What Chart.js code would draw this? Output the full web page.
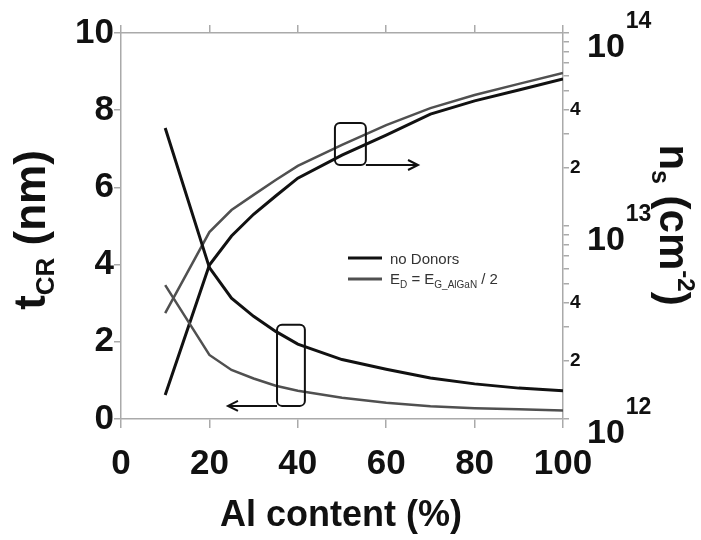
<!DOCTYPE html>
<html>
<head>
<meta charset="utf-8">
<script src="https://cdn.jsdelivr.net/npm/chart.js@4.4.1/dist/chart.umd.min.js"></script>
<style>
  html, body { margin: 0; padding: 0; background: #fff; }
  canvas { display: block; }
</style>
</head>
<body>
<canvas id="chart" width="701" height="540"></canvas>
<script>
// Valores (Al content en %)
const alContent = [10, 20, 25, 30, 35, 40, 50, 60, 70, 80, 90, 100];

// t_CR (nm), eje izquierdo
const tcrNoDonors = [7.54, 3.92, 3.13, 2.66, 2.27, 1.94, 1.54, 1.29, 1.06, 0.91, 0.80, 0.73];
const tcrDonors   = [3.47, 1.66, 1.27, 1.05, 0.86, 0.73, 0.55, 0.42, 0.33, 0.28, 0.25, 0.22];

// n_s (cm^-2), eje derecho logarítmico
const nsNoDonors = [1.33e12, 6.28e12, 8.87e12, 1.15e13, 1.43e13, 1.77e13, 2.33e13, 2.96e13, 3.8e13, 4.45e13, 5.07e13, 5.78e13];
const nsDonors   = [3.54e12, 9.3e12, 1.21e13, 1.45e13, 1.73e13, 2.05e13, 2.63e13, 3.33e13, 4.08e13, 4.77e13, 5.45e13, 6.21e13];

// ticks del eje derecho
const nsTicks = [1e12, 2e12, 3e12, 4e12, 5e12, 6e12, 7e12, 8e12, 9e12,
                 1e13, 2e13, 3e13, 4e13, 5e13, 6e13, 7e13, 8e13, 9e13, 1e14];
const nsTickText = ['', '2', '', '4', '', '', '', '', '',
                    '', '2', '', '4', '', '', '', '', '', ''];
const nsDecades = [12, 13, 14];

// recuadros y flechas (en unidades de los ejes x / y izquierdo)
const boxNs  = { x0: 48.4, x1: 55.4, y0: 6.58, y1: 7.67, arrowTo: 67.2 };
const boxTcr = { x0: 35.3, x1: 41.6, y0: 0.34, y1: 2.44, arrowTo: 24.2 };

const FONT = '"Liberation Sans", Arial, sans-serif';
const BLACK = '#111111';
const GRAY = '#505050';
const FRAME = '#aaaaaa';

function pts(ys) {
    return alContent.map((x, i) => ({ x: x, y: ys[i] }));
}

// texto con sub/superíndices
function richWidth(ctx, parts) {
    let w = 0;
    parts.forEach(p => {
        ctx.font = (p.weight || 'bold') + ' ' + p.size + 'px ' + FONT;
        w += ctx.measureText(p.text).width;
    });
    return w;
}
function drawRich(ctx, parts, x, y) {
    parts.forEach(p => {
        ctx.font = (p.weight || 'bold') + ' ' + p.size + 'px ' + FONT;
        ctx.fillText(p.text, x, y + (p.dy || 0));
        x += ctx.measureText(p.text).width;
    });
    return x;
}

function arrow(ctx, x0, y, x1) {
    const dir = Math.sign(x1 - x0);
    ctx.beginPath();
    ctx.moveTo(x0, y);
    ctx.lineTo(x1, y);
    ctx.stroke();
    ctx.beginPath();
    ctx.moveTo(x1 - dir * 10, y - 5);
    ctx.lineTo(x1, y);
    ctx.lineTo(x1 - dir * 10, y + 5);
    ctx.stroke();
}

function roundBox(ctx, xa, ya, xb, yb, r) {
    ctx.beginPath();
    ctx.roundRect(Math.min(xa, xb), Math.min(ya, yb), Math.abs(xb - xa), Math.abs(yb - ya), r);
    ctx.stroke();
}

const extras = {
    id: 'extras',
    afterDraw(chart) {
        const ctx = chart.ctx;
        const sx = chart.scales.x, sy = chart.scales.y, sr = chart.scales.yR;
        ctx.save();
        ctx.fillStyle = BLACK;
        ctx.textAlign = 'left';
        ctx.textBaseline = 'alphabetic';

        // etiquetas 10^n del eje derecho
        nsDecades.forEach(e => {
            const py = sr.getPixelForValue(Math.pow(10, e));
            ctx.font = 'bold 34px ' + FONT;
            ctx.fillText('10', 587, py + 24);
            const w = ctx.measureText('10').width;
            ctx.font = 'bold 23px ' + FONT;
            ctx.fillText(String(e), 587 + w + 1, py - 5);
        });

        // título izquierdo
        const leftParts = [
            { text: 't', size: 44 },
            { text: 'CR', size: 26, dy: 9 },
            { text: ' (nm)', size: 44 }
        ];
        ctx.save();
        ctx.translate(45, 230);
        ctx.rotate(-Math.PI / 2);
        drawRich(ctx, leftParts, -richWidth(ctx, leftParts) / 2, 0);
        ctx.restore();

        // título derecho
        const rightParts = [
            { text: 'n', size: 42 },
            { text: 's', size: 25, dy: 8 },
            { text: ' (cm', size: 42 },
            { text: '-2', size: 24, dy: -18 },
            { text: ')', size: 42 }
        ];
        ctx.save();
        ctx.translate(660, 225);
        ctx.rotate(Math.PI / 2);
        drawRich(ctx, rightParts, -richWidth(ctx, rightParts) / 2, 0);
        ctx.restore();

        // título inferior
        ctx.font = 'bold 36px ' + FONT;
        ctx.textAlign = 'center';
        ctx.fillText('Al content (%)', 341, 526);
        ctx.textAlign = 'left';

        // leyenda
        const ds = chart.data.datasets;
        ctx.lineWidth = 3;
        ctx.strokeStyle = ds[0].borderColor;
        ctx.beginPath(); ctx.moveTo(348, 258); ctx.lineTo(382, 258); ctx.stroke();
        ctx.strokeStyle = ds[1].borderColor;
        ctx.beginPath(); ctx.moveTo(348, 279); ctx.lineTo(382, 279); ctx.stroke();
        ctx.fillStyle = '#333';
        drawRich(ctx, [{ text: 'no Donors', size: 15, weight: 'normal' }], 390, 264);
        drawRich(ctx, [
            { text: 'E', size: 15, weight: 'normal' },
            { text: 'D', size: 10, weight: 'normal', dy: 4 },
            { text: ' = E', size: 15, weight: 'normal' },
            { text: 'G_AlGaN', size: 10, weight: 'normal', dy: 4 },
            { text: ' / 2', size: 15, weight: 'normal' }
        ], 390, 284);

        // recuadros y flechas
        ctx.strokeStyle = BLACK;
        ctx.lineWidth = 2;
        roundBox(ctx, sx.getPixelForValue(boxNs.x0), sy.getPixelForValue(boxNs.y1),
                 sx.getPixelForValue(boxNs.x1), sy.getPixelForValue(boxNs.y0), 5);
        arrow(ctx, sx.getPixelForValue(boxNs.x1), sy.getPixelForValue(boxNs.y0),
              sx.getPixelForValue(boxNs.arrowTo));
        roundBox(ctx, sx.getPixelForValue(boxTcr.x0), sy.getPixelForValue(boxTcr.y1),
                 sx.getPixelForValue(boxTcr.x1), sy.getPixelForValue(boxTcr.y0), 5);
        arrow(ctx, sx.getPixelForValue(boxTcr.x0), sy.getPixelForValue(boxTcr.y0),
              sx.getPixelForValue(boxTcr.arrowTo));

        ctx.restore();
    }
};

const axisGrid = len => ({
    drawOnChartArea: false,
    drawTicks: true,
    tickLength: len,
    color: FRAME,
    lineWidth: 1.5
});
const axisBorder = { display: true, color: FRAME, width: 1.5 };
const tickFont = { family: FONT, size: 35, weight: 'bold' };

new Chart(document.getElementById('chart'), {
    type: 'line',
    data: {
        datasets: [
            { label: 'no Donors', data: pts(tcrNoDonors), yAxisID: 'y',
              borderColor: BLACK, borderWidth: 3, pointRadius: 0, tension: 0 },
            { label: 'E_D = E_G_AlGaN / 2', data: pts(tcrDonors), yAxisID: 'y',
              borderColor: GRAY, borderWidth: 2.5, pointRadius: 0, tension: 0 },
            { label: 'no Donors (ns)', data: pts(nsNoDonors), yAxisID: 'yR',
              borderColor: BLACK, borderWidth: 3, pointRadius: 0, tension: 0 },
            { label: 'E_D = E_G_AlGaN / 2 (ns)', data: pts(nsDonors), yAxisID: 'yR',
              borderColor: GRAY, borderWidth: 2.5, pointRadius: 0, tension: 0 }
        ]
    },
    options: {
        responsive: false,
        animation: false,
        devicePixelRatio: 1,
        layout: { padding: 0 },
        plugins: {
            legend: { display: false },
            tooltip: { enabled: false }
        },
        scales: {
            x: {
                type: 'linear', position: 'bottom', min: 0, max: 100,
                ticks: { stepSize: 20, font: tickFont, color: BLACK, padding: 15, maxRotation: 0 },
                grid: axisGrid(9), border: axisBorder,
                afterFit: s => { s.height = 121; }
            },
            xTop: {
                type: 'linear', position: 'top', min: 0, max: 100,
                ticks: { stepSize: 20, display: false },
                grid: axisGrid(8), border: axisBorder,
                afterFit: s => { s.height = 33; }
            },
            y: {
                type: 'linear', position: 'left', min: 0, max: 10,
                ticks: { stepSize: 2, font: tickFont, color: BLACK, padding: 0 },
                grid: axisGrid(7), border: axisBorder,
                afterFit: s => { s.width = 121; }
            },
            yR: {
                type: 'logarithmic', position: 'right', min: 1e12, max: 1e14,
                afterBuildTicks: s => { s.ticks = nsTicks.map(v => ({ value: v })); },
                ticks: {
                    autoSkip: false,
                    font: { family: FONT, size: 19, weight: 'bold' }, color: BLACK, padding: 1,
                    callback: v => nsTickText[nsTicks.indexOf(v)] || ''
                },
                grid: axisGrid(6), border: axisBorder,
                afterFit: s => { s.width = 138; }
            }
        }
    },
    plugins: [extras]
});
</script>
</body>
</html>
